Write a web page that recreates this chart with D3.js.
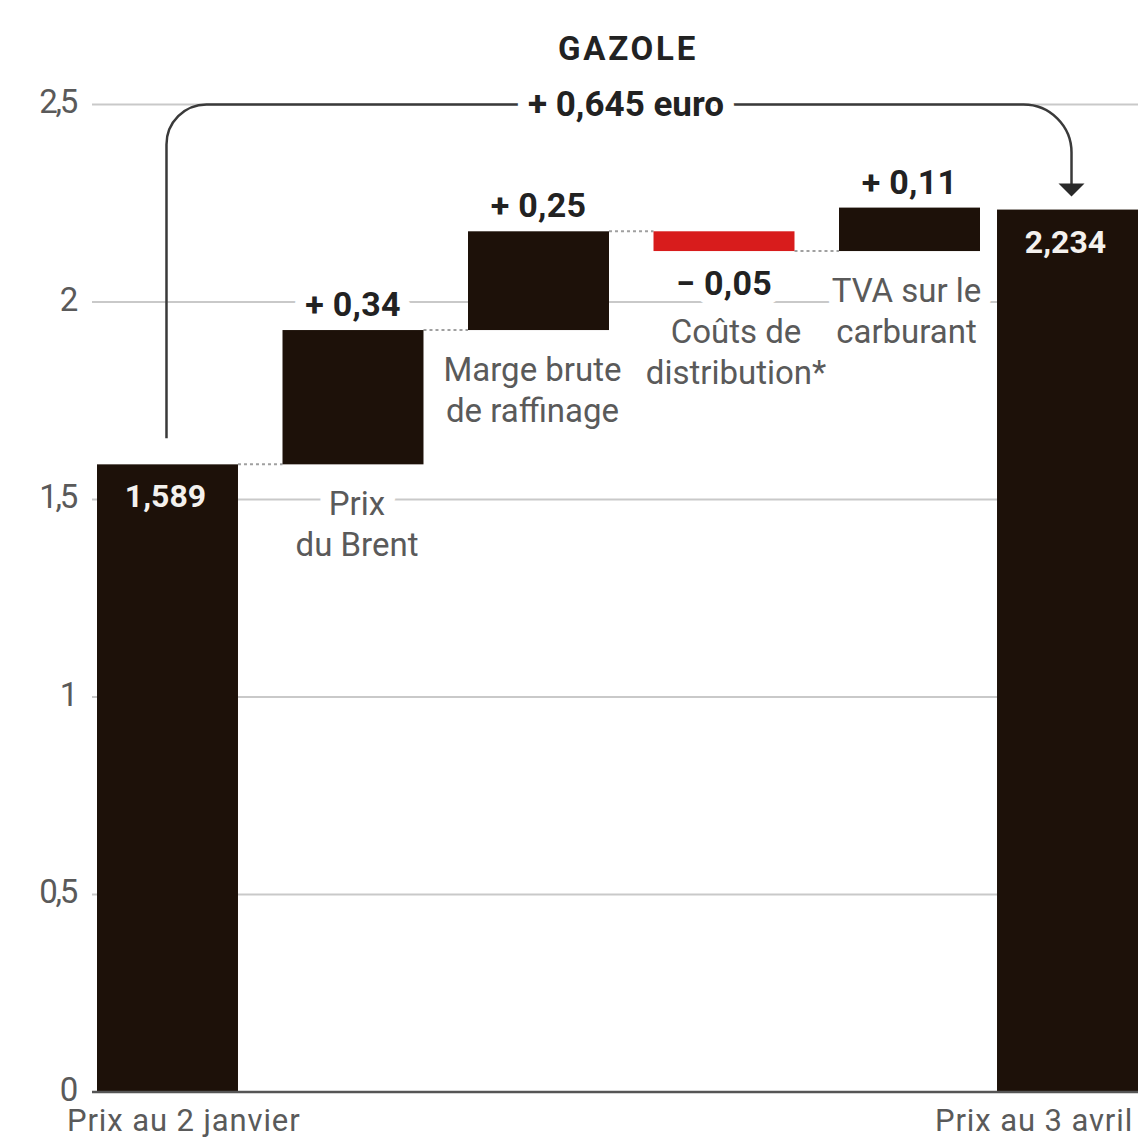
<!DOCTYPE html>
<html>
<head>
<meta charset="utf-8">
<script src="https://cdn.jsdelivr.net/npm/d3@7"></script>
<style>
  html, body { margin: 0; padding: 0; background: #fff; }
  svg { display: block; }
  text { font-family: Roboto, "Noto Sans", sans-serif; }
</style>
</head>
<body>
<div id="chart"></div>
<script>
// ---------- data ----------
const title = "GAZOLE";
const categories = ["Prix au 2 janvier", "Prix du Brent", "Marge brute de raffinage", "Coûts de distribution*", "TVA sur le carburant", "Prix au 3 avril"];
const categoryLines = [["Prix au 2 janvier"], ["Prix", "du Brent"], ["Marge brute", "de raffinage"], ["Coûts de", "distribution*"], ["TVA sur le", "carburant"], ["Prix au 3 avril"]];
const startValue = 1.589;
const deltas = [0.34, 0.25, -0.05, 0.11];
const endValue = 2.234;
const valueLabels = ["1,589", "+ 0,34", "+ 0,25", "− 0,05", "+ 0,11", "2,234"];
const yTicks = [0, 0.5, 1, 1.5, 2, 2.5];
const yTickLabels = ["0", "0,5", "1", "1,5", "2", "2,5"];
const totalChangeLabel = "+ 0,645 euro";

// ---------- layout ----------
const W = 1138, H = 1142;
const plotLeft = 92, firstBar = 97, stepsRight = 980;
const labelNudge = [0, 4, -6, 12, -3, 0]; // small horizontal nudges of category labels
const colDark = "#1d1109", colRed = "#d81c1c", colGrid = "#c9c9c9", colText = "#5a5a5a", colBold = "#222";
const regFont = "'Open Sans', Roboto, sans-serif";

const svg = d3.select("#chart").append("svg").attr("width", W).attr("height", H);

const y = d3.scaleLinear().domain([0, 2.5]).range([1092, 104.5]);
const x = d3.scaleBand().domain(categories.slice(0, 5)).range([firstBar, stepsRight]).paddingInner(0.24);
const bw = x.bandwidth();
const xPos = (c, i) => i < 5 ? x(c) : W - bw;

// build waterfall records
const bars = [];
bars.push({ cat: categories[0], i: 0, y0: 0, y1: startValue, kind: "total" });
let run = startValue;
deltas.forEach((d, k) => {
  const a = run, b = run + d;
  bars.push({ cat: categories[k + 1], i: k + 1, y0: Math.min(a, b), y1: Math.max(a, b), delta: d, from: a, to: b, kind: d < 0 ? "neg" : "pos" });
  run = b;
});
bars.push({ cat: categories[5], i: 5, y0: 0, y1: endValue, kind: "total" });

// ---------- gridlines ----------
svg.append("g").selectAll("line").data(yTicks.filter(t => t > 0)).join("line")
  .attr("x1", plotLeft).attr("x2", W)
  .attr("y1", d => y(d)).attr("y2", d => y(d))
  .attr("stroke", colGrid).attr("stroke-width", 2);

// axis via d3.axisLeft for tick labels
const axis = d3.axisLeft(y).tickValues(yTicks).tickFormat((d, i) => yTickLabels[i]).tickSize(0).tickPadding(0);
const ax = svg.append("g").attr("transform", `translate(76,0)`).call(axis);
ax.select(".domain").remove();
ax.selectAll("text").attr("font-size", 33).attr("fill", colText).attr("letter-spacing", -2.3)
  .attr("font-family", "Roboto, sans-serif").attr("dy", "0.25em");

// ---------- connectors ----------
const conns = [];
for (let k = 0; k < 4; k++) {
  const a = bars[k], b = bars[k + 1];
  const level = a.kind === "total" ? a.y1 : a.to;
  conns.push({ x1: xPos(a.cat, a.i) + bw, x2: xPos(b.cat, b.i), v: level });
}
svg.append("g").selectAll("line").data(conns).join("line")
  .attr("x1", d => d.x1).attr("x2", d => d.x2)
  .attr("y1", d => y(d.v)).attr("y2", d => y(d.v))
  .attr("stroke", "#a0a0a0").attr("stroke-width", 2).attr("stroke-dasharray", "3,3");

// ---------- bracket ----------
const bx1 = xPos(bars[0].cat, 0) + bw / 2 - 1;
const bx2 = xPos(bars[5].cat, 5) + bw / 2 + 4;
const byTop = y(2.5);
const byL = y(startValue) - 26;
const byR = y(endValue) - 13;
const p = d3.path();
p.moveTo(bx1, byL);
p.lineTo(bx1, byTop + 40);
p.arcTo(bx1, byTop, bx1 + 40, byTop, 40);
p.lineTo(bx2 - 48, byTop);
p.arcTo(bx2, byTop, bx2, byTop + 48, 48);
p.lineTo(bx2, byR - 12);
svg.append("path").attr("d", p.toString()).attr("fill", "none").attr("stroke", "#3a3a3a").attr("stroke-width", 2.5);
svg.append("path").attr("d", `M${bx2 - 13},${byR - 13}L${bx2 + 13},${byR - 13}L${bx2},${byR}Z`).attr("fill", "#2a2a2a");

// ---------- labels (white knock-out halos drawn first, then text) ----------
const haloLayer = svg.append("g").attr("class", "halos");
const textLayer = svg.append("g").attr("class", "labels");

function label(build) {
  build(haloLayer).attr("fill", "#fff").attr("stroke", "#fff").attr("stroke-width", 22).attr("stroke-linejoin", "round");
  return build(textLayer);
}

// title
textLayer.append("text").attr("x", 628).attr("y", 60).attr("text-anchor", "middle")
  .attr("font-size", 33).attr("font-weight", 700).attr("fill", colBold).attr("letter-spacing", 2.8).text(title);

// total change
label(g => g.append("text").attr("x", 626).attr("y", 116).attr("text-anchor", "middle")
  .attr("font-size", 35).attr("font-weight", 700).attr("fill", colBold).text(totalChangeLabel));

// step value labels
const steps = bars.filter(d => d.kind !== "total");
steps.forEach(d => {
  label(g => g.append("text")
    .attr("x", xPos(d.cat, d.i) + bw / 2)
    .attr("y", d.kind === "neg" ? y(d.y0) + 44 : y(d.y1) - 14)
    .attr("text-anchor", "middle").attr("font-size", 34).attr("font-weight", 700)
    .attr("fill", colBold).attr("letter-spacing", 0.3)
    .text(valueLabels[d.i]));
});

// step category labels
steps.forEach(d => {
  const base = d.kind === "neg" ? y(d.y0) + 92 : y(d.y0) + 51;
  label(g => {
    const t = g.append("text").attr("text-anchor", "middle").attr("font-family", regFont)
      .attr("font-size", 33).attr("fill", colText);
    categoryLines[d.i].forEach((ln, j) => {
      t.append("tspan").attr("x", xPos(d.cat, d.i) + bw / 2 + labelNudge[d.i]).attr("y", base + j * 41).text(ln);
    });
    return t;
  });
});

// ---------- bars (drawn over label halos) ----------
svg.append("g").selectAll("rect").data(bars).join("rect")
  .attr("x", d => xPos(d.cat, d.i)).attr("width", bw)
  .attr("y", d => y(d.y1)).attr("height", d => y(d.y0) - y(d.y1))
  .attr("fill", d => d.kind === "neg" ? colRed : colDark);

// zero line
svg.append("line").attr("x1", plotLeft).attr("x2", W).attr("y1", y(0)).attr("y2", y(0))
  .attr("stroke", "#555").attr("stroke-width", 2.5);

// totals inside bars
svg.append("g").selectAll("text").data(bars.filter(d => d.kind === "total")).join("text")
  .attr("x", d => xPos(d.cat, d.i) + bw / 2 - 2)
  .attr("y", d => y(d.y1) + 43)
  .attr("text-anchor", "middle").attr("font-size", 32).attr("font-weight", 700)
  .attr("fill", "#f4f1ee")
  .text(d => valueLabels[d.i]);

// bottom category labels
svg.append("text").attr("x", 67).attr("y", y(0) + 39).attr("font-family", regFont).attr("font-size", 31).attr("fill", colText)
  .attr("letter-spacing", 0.9).text(categoryLines[0][0]);
svg.append("text").attr("x", 935).attr("y", y(0) + 39).attr("font-family", regFont).attr("font-size", 31).attr("fill", colText)
  .attr("letter-spacing", 0.9).text(categoryLines[5][0]);
</script>
</body>
</html>
